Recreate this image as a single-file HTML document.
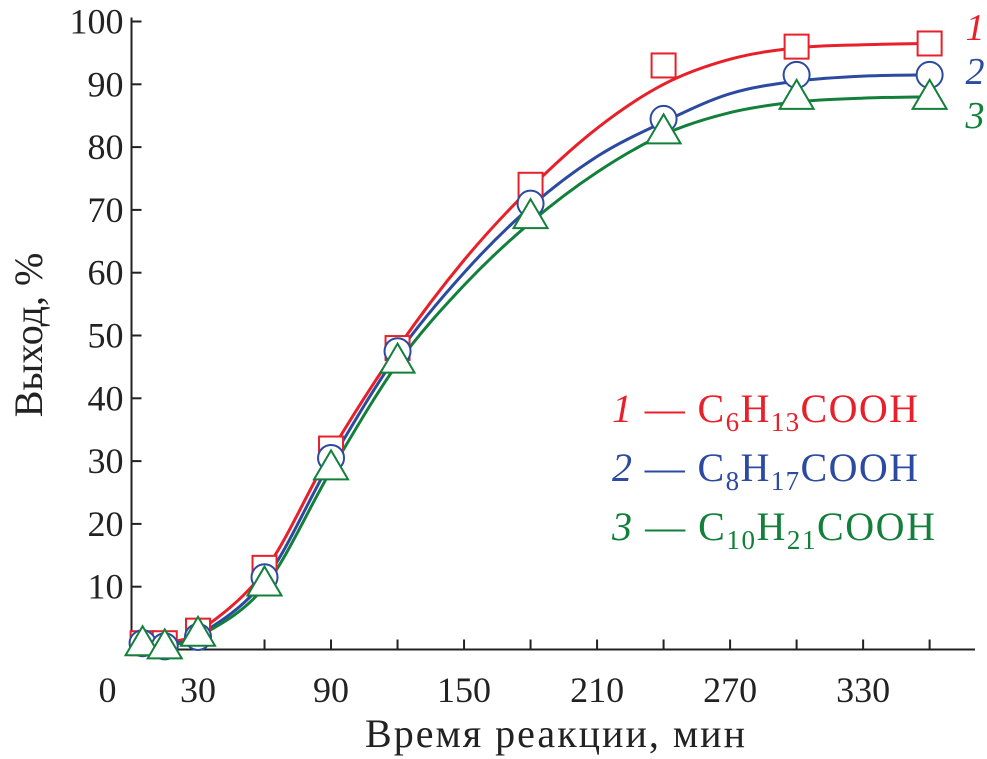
<!DOCTYPE html>
<html><head><meta charset="utf-8"><style>
body{margin:0;background:#fff}
svg{display:block;font-family:"Liberation Serif",serif}
</style></head><body>
<svg id="c" width="987" height="759"></svg>
<script>
const xVals=[5,15,30,60,90,120,180,240,300,360];
const s1=[1,1,3,13,32,48,74,93,96,96.5];
const s2=[1,0.5,2,11.5,30.5,47.5,71,84.5,91.5,91.5];
const s3=[1,0.5,2.5,10.5,29,46,69,82.5,88,88];
const fitX=[5,15,30,60,90,120,150,180,210,240,270,300,330,360];
const fit1=[0.8,1.2,2.8,12.5,31.5,48,62,73.5,83,90,94,95.8,96.3,96.5];
const fit2=[0.7,1,2.2,11,30,47,60,70.5,78.5,84,88.5,90.5,91.3,91.5];
const fit3=[0.6,0.8,2,10,28.5,45.5,58,68,76,82,85.5,87.2,87.8,88];
const xTicks=[30,90,150,210,270,330];
const xMinor=[60,120,180,240,300,360];
const yTicks=[10,20,30,40,50,60,70,80,90,100];
const NS="http://www.w3.org/2000/svg";
const svg=document.getElementById('c');
const X=v=>131.5+v*2.217, Y=v=>649.5-v*6.28;
function el(t,a,p){const e=document.createElementNS(NS,t);for(const k in a)e.setAttribute(k,a[k]);(p||svg).appendChild(e);return e;}
function txt(s,x,y,a){const e=el('text',Object.assign({x:x,y:y},a));e.textContent=s;return e;}
const ax=el('path',{d:`M${X(0)},${Y(100)-4}V${Y(0)}H975`,stroke:'#222','stroke-width':2,fill:'none'});

yTicks.forEach(v=>{const t=el('line',{x1:X(0),x2:X(0)+10,y1:Y(v),y2:Y(v),stroke:'#222','stroke-width':2});

const l=txt(v,X(0)-8,Y(v)+12,{'font-size':36,'text-anchor':'end',fill:'#222'});
});
xTicks.concat(xMinor).forEach(v=>{const t=el('line',{x1:X(v),x2:X(v),y1:Y(0),y2:Y(0)-10,stroke:'#222','stroke-width':2});
});
[0].concat(xTicks).forEach(v=>{const l=txt(v,v===0?X(0)-24:X(v),702,{'font-size':36,'text-anchor':'middle',fill:'#222'});
});
const xt=txt('Время реакции, мин',365,747,{'font-size':40,fill:'#222',textLength:380});

const yt=txt('Выход, %',0,0,{'font-size':40,'text-anchor':'middle',fill:'#222',transform:'translate(42,335) rotate(-90)'});

function curve(vals){const p=fitX.map((x,i)=>[X(x),Y(vals[i])]);let d=`M${p[0][0]},${p[0][1]}`;
for(let i=0;i<p.length-1;i++){const p0=p[Math.max(0,i-1)],p1=p[i],p2=p[i+1],p3=p[Math.min(p.length-1,i+2)];
d+=`C${p1[0]+(p2[0]-p0[0])/6},${p1[1]+(p2[1]-p0[1])/6} ${p2[0]-(p3[0]-p1[0])/6},${p2[1]-(p3[1]-p1[1])/6} ${p2[0]},${p2[1]}`;}return d;}
const series=[[s1,fit1,'#e8202a','square','1'],[s2,fit2,'#2b4aa0','circle','2'],[s3,fit3,'#12803a','triangle','3']];
series.forEach(([vals,fit,col,m,n])=>{const c=el('path',{d:curve(fit),stroke:col,'stroke-width':3,fill:'none'});
});
const endY={'1':40,'2':84,'3':128};
series.forEach(([vals,fit,col,m,n])=>{xVals.forEach((x,i)=>{const cx=X(x),cy=Y(vals[i]);let e;
if(m==='square')e=el('rect',{x:cx-12,y:cy-12,width:24,height:24,fill:'#fff',stroke:col,'stroke-width':2});
else if(m==='circle')e=el('circle',{cx:cx,cy:cy,r:13,fill:'#fff',stroke:col,'stroke-width':2});
else e=el('polygon',{points:`${cx},${cy-17} ${cx-17},${cy+12} ${cx+17},${cy+12}`,fill:'#fff',stroke:col,'stroke-width':2});
});
const lab=txt(n,975,endY[n],{'font-size':38,'font-style':'italic','text-anchor':'middle',fill:col});
});
const leg=[['1','6','13','#e8202a',422],['2','8','17','#2b4aa0',481],['3','10','21','#12803a',540]];
leg.forEach(([n,a,b,col,y])=>{const t=el('text',{x:612,y:y,'font-size':40,fill:col,textLength:n==='3'?323:306});

t.innerHTML=`<tspan font-style="italic">${n}</tspan> — C<tspan font-size="27" dy="9">${a}</tspan><tspan dy="-9">H</tspan><tspan font-size="27" dy="9">${b}</tspan><tspan dy="-9">COOH</tspan>`;});
</script>
</body></html>
